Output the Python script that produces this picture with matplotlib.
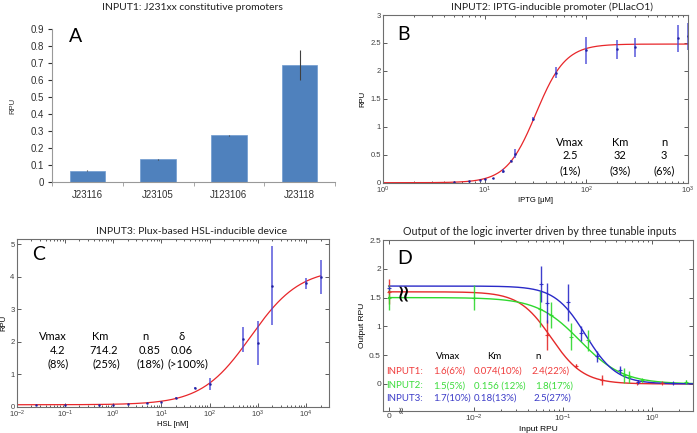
import numpy as np
import matplotlib
matplotlib.use("Agg")
import matplotlib.pyplot as plt
from matplotlib.ticker import FixedLocator, NullFormatter, LogLocator

plt.rcParams['font.family'] = ['Liberation Sans', 'DejaVu Sans']
plt.rcParams['mathtext.fontset'] = 'custom'
plt.rcParams['mathtext.rm'] = 'Liberation Sans'
plt.rcParams['mathtext.it'] = 'Liberation Sans'
TXT = ['Lato', 'DejaVu Sans']

# ---------------- data ----------------
# Panel A
a_categories = ['J23116', 'J23105', 'J123106', 'J23118']
a_values = [0.066, 0.134, 0.275, 0.691]
a_errors = [0.003, 0.004, 0.003, 0.087]

# Panel B (IPTG)
b_x = [5, 7, 9, 10, 12, 15, 18, 20, 30, 50, 100, 200, 300, 800, 1000]
b_y = [0.02, 0.03, 0.05, 0.06, 0.08, 0.21, 0.39, 0.52, 1.14, 1.97, 2.37, 2.39, 2.42, 2.58, 2.62]
b_err = [0.0, 0.005, 0.005, 0.005, 0.01, 0.03, 0.02, 0.08, 0.03, 0.10, 0.24, 0.17, 0.17, 0.25, 0.24]
b_params = {'Vmax': 2.48, 'Km': 32.0, 'n': 3.0}
b_param_names = ['Vmax', 'Km', 'n']
b_param_vals = ['2.5', '32', '3']
b_param_cv = ['(1%)', '(3%)', '(6%)']

# Panel C (HSL)
c_x = [0.025, 0.1, 0.5, 1, 2, 5, 10, 20, 50, 100, 500, 1000, 2000, 10000, 20000]
c_y = [0.05, 0.05, 0.05, 0.06, 0.08, 0.10, 0.15, 0.28, 0.58, 0.70, 2.07, 1.97, 3.72, 3.80, 4.00]
c_err = [0.0, 0.0, 0.0, 0.0, 0.01, 0.01, 0.01, 0.02, 0.02, 0.18, 0.38, 0.68, 1.21, 0.17, 0.52]
c_params = {'Vmax': 4.2, 'Km': 714.2, 'n': 0.85, 'delta': 0.06}
c_param_names = ['Vmax', 'Km', 'n', 'δ']
c_param_vals = ['4.2', '714.2', '0.85', '0.06']
c_param_cv = ['(8%)', '(25%)', '(18%)', '(>100%)']

# Panel D (inverter); x = 0 is drawn at the broken-axis "0" position
d_names = ['INPUT1:', 'INPUT2:', 'INPUT3:']
d_vmax = [1.6, 1.5, 1.7]
d_km = [0.074, 0.156, 0.18]
d_n = [2.4, 1.8, 2.5]
d_vmax_txt = ['1.6(6%)', '1.5(5%)', '1.7(10%)']
d_km_txt = ['0.074(10%)', '0.156 (12%)', '0.18(13%)']
d_n_txt = ['2.4(22%)', '1.8(17%)', '2.5(27%)']
d1_x = [0.0, 0.066, 0.14, 0.275, 0.68, 1.3]
d1_y = [1.60, 0.85, 0.32, 0.07, 0.02, 0.01]
d1_err = [0.22, 0.26, 0.03, 0.08, 0.01, 0.0]
d2_x = [0.0, 0.01, 0.055, 0.074, 0.123, 0.19, 0.48, 0.55, 0.77, 2.4]
d2_y = [1.50, 1.50, 1.30, 1.20, 0.82, 0.76, 0.15, 0.12, 0.06, 0.03]
d2_err = [0.22, 0.21, 0.31, 0.23, 0.23, 0.18, 0.13, 0.11, 0.03, 0.03]
d3_x = [0.0, 0.056, 0.066, 0.115, 0.16, 0.24, 0.44, 0.70, 1.75]
d3_y = [1.67, 1.74, 1.40, 1.42, 0.88, 0.48, 0.25, 0.04, 0.02]
d3_err = [0.0, 0.31, 0.35, 0.32, 0.13, 0.10, 0.07, 0.02, 0.02]

# ---------------- figure ----------------
W, H = 697, 433
fig = plt.figure(figsize=(W / 100, H / 100), dpi=100)

def ax_px(l, t, r, b):
    return fig.add_axes([l / W, 1 - b / H, (r - l) / W, (b - t) / H])

def px(x, y):
    return x / W, 1 - y / H

spine_c = '#6e6e6e'
eb_blue = '#4a4ad8'

def matlab_style(ax, fs=5.5):
    for s in ax.spines.values():
        s.set_color(spine_c)
        s.set_linewidth(0.8)
    ax.tick_params(which='both', direction='in', top=True, right=True,
                   colors='#404040', labelsize=fs, width=0.6, pad=1.5)
    ax.tick_params(which='major', length=3)
    ax.tick_params(which='minor', length=1.6)

# ---- Panel A ----
axA = ax_px(52, 29.3, 335, 182)
xa = np.arange(len(a_categories))
axA.bar(xa, a_values, width=0.5, color='#4f81bd', edgecolor='#6f9bd0', linewidth=0.5)
axA.errorbar(xa, a_values, yerr=a_errors, fmt='none', ecolor='#404040', elinewidth=0.8, capsize=0)
axA.set_xlim(-0.5, len(a_categories) - 0.5)
axA.set_ylim(0, 0.9)
axA.set_yticks(np.arange(0, 0.91, 0.1))
axA.set_yticklabels(['0', '0.1', '0.2', '0.3', '0.4', '0.5', '0.6', '0.7', '0.8', '0.9'])
axA.set_xticks(xa)
axA.set_xticklabels(a_categories)
axA.xaxis.set_minor_locator(FixedLocator(np.arange(-0.5, len(a_categories), 1.0)))
axA.tick_params(axis='x', which='major', length=0, labelsize=7, pad=6, colors='#303030')
axA.tick_params(axis='x', which='minor', length=3, direction='out', color='#999999')
axA.tick_params(axis='y', length=3, direction='out', labelsize=7, colors='#303030', pad=3)
axA.spines['top'].set_visible(False)
axA.spines['right'].set_visible(False)
axA.spines['left'].set_color('#999999')
axA.spines['bottom'].set_color('#999999')
axA.set_ylabel('RPU', fontsize=5.5, labelpad=10, color='#303030')
fig.text(*px(192, 7), 'INPUT1: J231xx constitutive promoters', ha='center', va='center',
         fontsize=7.5, family=TXT, color='#202020')
fig.text(*px(76, 36), 'A', ha='center', va='center', fontsize=14, family=TXT)

# ---- Panel B ----
axB = ax_px(383, 15, 688, 182.7)
xb = np.logspace(0, 3, 400)
yb = b_params['Vmax'] * xb ** b_params['n'] / (b_params['Km'] ** b_params['n'] + xb ** b_params['n'])
axB.plot(xb, yb, color='#e8262a', lw=0.9)
axB.errorbar(b_x, b_y, yerr=b_err, fmt='.', ms=1.8, color='#2020a0', ecolor=eb_blue,
             elinewidth=1.2, capsize=0, alpha=0.85)
axB.set_xscale('log')
axB.set_xlim(1, 1000)
axB.set_ylim(0, 3)
axB.set_yticks(np.arange(0, 3.01, 0.5))
axB.set_yticklabels(['0', '0.5', '1', '1.5', '2', '2.5', '3'])
matlab_style(axB)
axB.set_xlabel('IPTG [μM]', fontsize=5.5, labelpad=1)
axB.set_ylabel('RPU', fontsize=5.5, labelpad=3)
fig.text(*px(552, 7), 'INPUT2: IPTG-inducible promoter (PLlacO1)', ha='center', va='center',
         fontsize=7.5, family=TXT, color='#202020')
fig.text(*px(403, 35), 'B', ha='center', va='center', fontsize=14, family=TXT)
for xc, nm, v, cv in zip([570, 620, 664], b_param_names, b_param_vals, b_param_cv):
    fig.text(*px(xc, 142.7), nm, ha='center', va='center', fontsize=8, family=TXT)
    fig.text(*px(xc, 155.7), v, ha='center', va='center', fontsize=8, family=TXT)
    fig.text(*px(xc, 170.7), cv, ha='center', va='center', fontsize=8, family=TXT)

# ---- Panel C ----
axC = ax_px(16.7, 239, 329, 406.7)
xc_ = np.logspace(-2, np.log10(2e4), 400)
pc = c_params
yc = pc['delta'] + pc['Vmax'] * xc_ ** pc['n'] / (pc['Km'] ** pc['n'] + xc_ ** pc['n'])
axC.plot(xc_, yc, color='#e8262a', lw=0.9)
axC.errorbar(c_x, c_y, yerr=c_err, fmt='.', ms=1.8, color='#2020a0', ecolor=eb_blue,
             elinewidth=1.2, capsize=0, alpha=0.85)
axC.set_xscale('log')
axC.set_xlim(1e-2, 3e4)
axC.set_ylim(0, 5.16)
axC.set_yticks([0, 1, 2, 3, 4, 5])
axC.xaxis.set_major_locator(FixedLocator([1e-2, 1e-1, 1, 1e1, 1e2, 1e3, 1e4]))
axC.xaxis.set_minor_locator(LogLocator(base=10, subs=np.arange(2, 10), numticks=20))
axC.xaxis.set_minor_formatter(NullFormatter())
matlab_style(axC)
axC.set_xlabel('HSL [nM]', fontsize=5.5, labelpad=1)
axC.set_ylabel('RPU', fontsize=5.5, labelpad=2)
fig.text(*px(192, 231.7), 'INPUT3: Plux-based HSL-inducible device', ha='center', va='center',
         fontsize=7.5, family=TXT, color='#202020')
fig.text(*px(39, 255), 'C', ha='center', va='center', fontsize=14, family=TXT)
for xh, xv, xcv, nm, v, cv in zip([53, 100, 145, 182], [58, 104, 150, 182], [58, 106, 150, 188],
                                  c_param_names, c_param_vals, c_param_cv):
    fig.text(*px(xh, 336.7), nm, ha='center', va='center', fontsize=8, family=TXT)
    fig.text(*px(xv, 350), v, ha='center', va='center', fontsize=8, family=TXT)
    fig.text(*px(xcv, 363.3), cv, ha='center', va='center', fontsize=8, family=TXT)

# ---- Panel D ----
x0_pos = 1.1e-3  # where input 0 is drawn
axD = ax_px(383, 240, 693, 411)
d_cols = ['#e52a2a', '#2ed82e', '#2a2ac8']
d_txt_cols = ['#f03c3c', '#3cdc3c', '#3c3cc8']
xd = np.logspace(np.log10(x0_pos), np.log10(2.9), 400)
for vm, km, nn, col in zip(d_vmax, d_km, d_n, d_cols):
    axD.plot(xd, vm * km ** nn / (km ** nn + xd ** nn), color=col, lw=1.0)
for xs, ys, es, col in zip([d1_x, d2_x, d3_x], [d1_y, d2_y, d3_y], [d1_err, d2_err, d3_err], d_cols):
    xplot = [x0_pos if v == 0 else v for v in xs]
    axD.errorbar(xplot, ys, yerr=es, fmt='+', ms=3, mew=0.8, color=col, ecolor=col,
                 elinewidth=1.0, capsize=0, alpha=0.9)
axD.set_xscale('log')
axD.set_xlim(9.5e-4, 2.9)
axD.set_ylim(-0.47, 2.5)
axD.set_yticks([0, 0.5, 1, 1.5, 2, 2.5])
axD.set_yticklabels(['0', '0.5', '1', '1.5', '2', '2.5'])
axD.xaxis.set_major_locator(FixedLocator([x0_pos, 1e-2, 1e-1, 1]))
axD.set_xticklabels(['0', '$10^{-2}$', '$10^{-1}$', '$10^{0}$'])
minors = [m * 10.0 ** e for e in (-2, -1, 0) for m in range(2, 10) if m * 10.0 ** e < 2.9]
axD.xaxis.set_minor_locator(FixedLocator(minors))
axD.xaxis.set_minor_formatter(NullFormatter())
matlab_style(axD, fs=6)
axD.set_xlabel('Input RPU', fontsize=6, labelpad=1)
axD.set_ylabel('Output RPU', fontsize=6, labelpad=2)
fig.text(*px(540, 231.7), 'Output of the logic inverter driven by three tunable inputs', ha='center',
         va='center', fontsize=7.7, family=TXT, color='#202020')
fig.text(*px(405, 258), 'D', ha='center', va='center', fontsize=14, family=TXT)
fig.text(*px(403, 290.8), '≈', ha='center', va='center', fontsize=17, rotation=90,
         family=['DejaVu Sans'], color='black')
fig.text(*px(401.5, 409), '≈', ha='center', va='center', fontsize=7, rotation=90,
         family=['DejaVu Sans'], color='#333333')
for xh, nm in zip([448, 494, 538], ['Vmax', 'Km', 'n']):
    fig.text(*px(xh, 356.7), nm, ha='center', va='center', fontsize=7, family=TXT)
for i, (nm, vt, kt, nt, col) in enumerate(zip(d_names, d_vmax_txt, d_km_txt, d_n_txt, d_txt_cols)):
    yy = [371, 385.7, 398.3][i]
    fig.text(*px(386, yy), nm, ha='left', va='center', fontsize=7, family=TXT, color=col)
    fig.text(*px(433, yy), vt, ha='left', va='center', fontsize=7, family=TXT, color=col)
    fig.text(*px(474, yy), kt, ha='left', va='center', fontsize=7, family=TXT, color=col)
    fig.text(*px([532, 535, 534][i], yy), nt, ha='left', va='center', fontsize=7, family=TXT, color=col)

fig.savefig('out.png', dpi=100)
